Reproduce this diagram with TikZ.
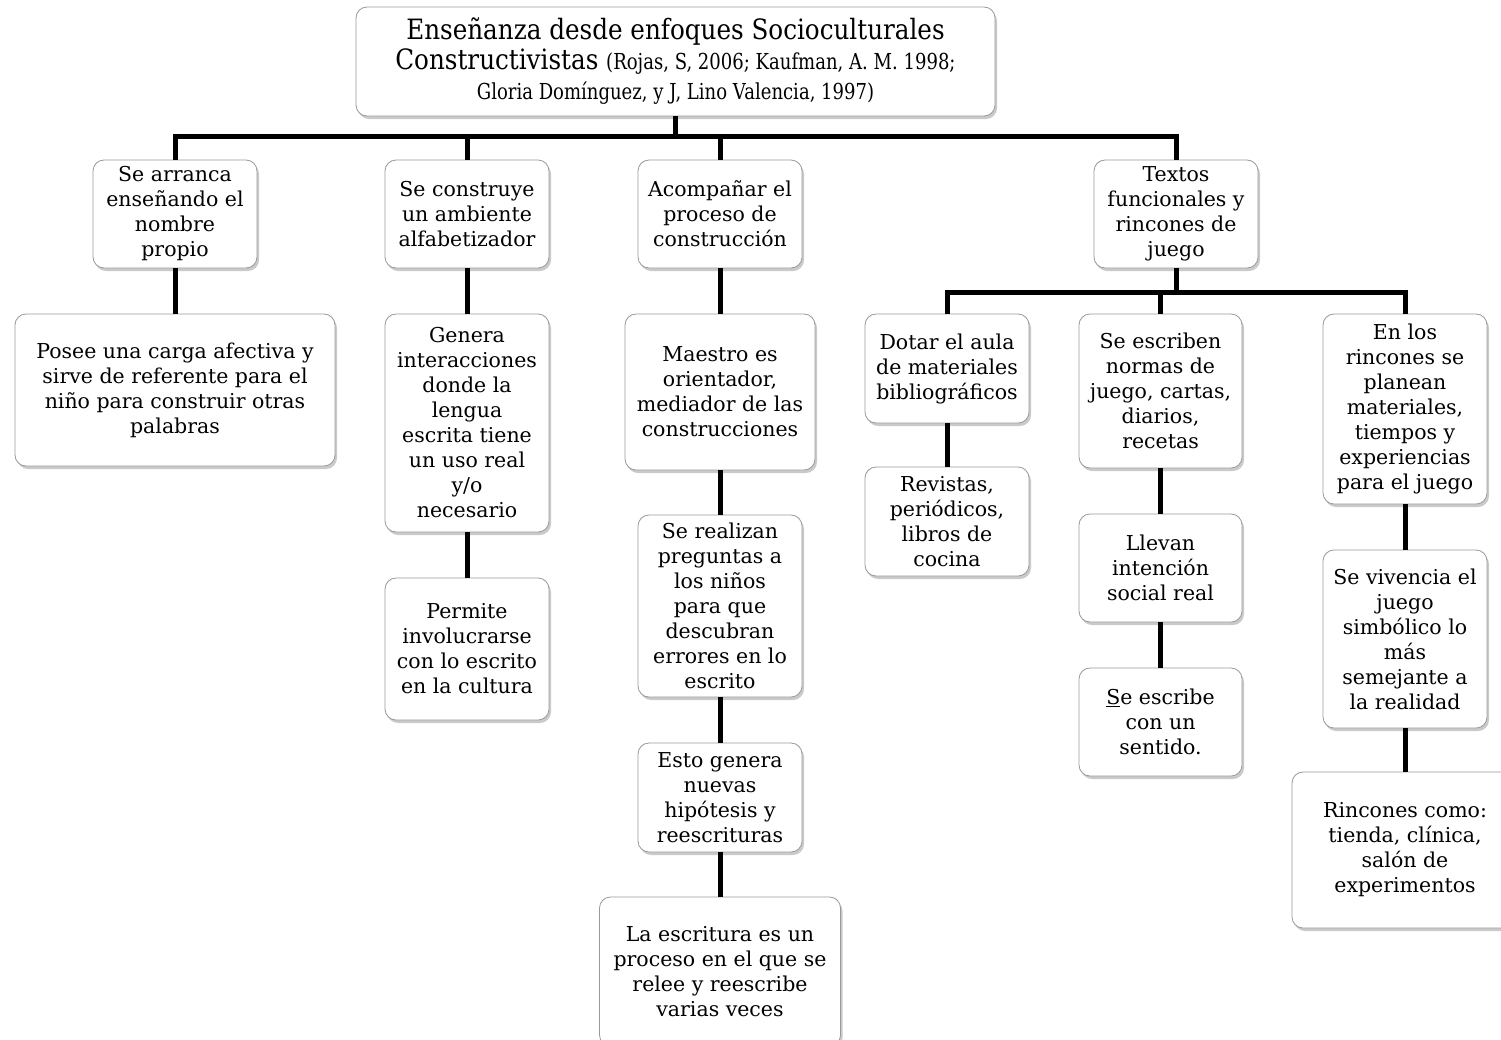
\documentclass[tikz,border=0pt]{standalone}
\usepackage{fontspec}
\setmainfont{DejaVu Serif}
\newfontfamily\titlefam[FakeStretch=0.88]{DejaVu Serif}
\newfontfamily\reffam[FakeStretch=0.82]{DejaVu Serif}
\usetikzlibrary{shadows}
\newcommand{\bodyfont}{\fontsize{20.5}{25}\selectfont}
\newcommand{\titlefont}{\titlefam\fontsize{28}{30}\selectfont}
\newcommand{\reffont}{\reffam\fontsize{22}{26}\selectfont}
\begin{document}
\begin{tikzpicture}[x=1pt,y=-1pt,
  box/.style={draw=black!40, line width=0.8pt, rounded corners=11pt, fill=white,
    align=center, inner sep=0pt, font=\bodyfont,
    drop shadow={shadow xshift=2pt, shadow yshift=-3pt, fill=black!35, opacity=0.6}},
  conn/.style={line width=5pt, draw=black, line join=miter}]
\useasboundingbox (0,0) rectangle (1501,1039);
% nodes
\node[box, minimum width=639pt, minimum height=109pt, font=\titlefont] (top) at (675.5,61.5)
  {Enseñanza desde enfoques Socioculturales\\Constructivistas {\reffont(Rojas, S, 2006; Kaufman, A. M. 1998;}\\{\reffont Gloria Domínguez, y J, Lino Valencia, 1997)}};
\node[box, minimum width=164pt, minimum height=108pt] (B1) at (175,214) {Se arranca\\enseñando el\\nombre\\propio};
\node[box, minimum width=164pt, minimum height=108pt] (B2) at (467,214) {Se construye\\un ambiente\\alfabetizador};
\node[box, minimum width=164pt, minimum height=108pt] (B3) at (720,214) {Acompañar el\\proceso de\\construcción};
\node[box, minimum width=164pt, minimum height=108pt] (B4) at (1176,214) {Textos\\funcionales y\\rincones de\\juego};
\node[box, minimum width=320pt, minimum height=152pt] (C1) at (175,390) {Posee una carga afectiva y\\sirve de referente para el\\niño para construir otras\\palabras};
\node[box, minimum width=164pt, minimum height=218pt] (C2) at (467,423) {Genera\\interacciones\\donde la\\lengua\\escrita tiene\\un uso real\\y/o\\necesario};
\node[box, minimum width=164pt, minimum height=142pt] (D2) at (467,649) {Permite\\involucrarse\\con lo escrito\\en la cultura};
\node[box, minimum width=190pt, minimum height=156pt] (C3) at (720,392) {Maestro es\\orientador,\\mediador de las\\construcciones};
\node[box, minimum width=164pt, minimum height=182pt] (D3) at (720,606) {Se realizan\\preguntas a\\los niños\\para que\\descubran\\errores en lo\\escrito};
\node[box, minimum width=164pt, minimum height=109pt] (E3) at (720,797.5) {Esto genera\\nuevas\\hipótesis y\\reescrituras};
\node[box, minimum width=241pt, minimum height=149pt] (F3) at (720,971.5) {La escritura es un\\proceso en el que se\\relee y reescribe\\varias veces};
\node[box, minimum width=164pt, minimum height=109pt] (G1) at (947,368.5) {Dotar el aula\\de materiales\\bibliográficos};
\node[box, minimum width=164pt, minimum height=109pt] (H1) at (947,521.5) {Revistas,\\periódicos,\\libros de\\cocina};
\node[box, minimum width=163pt, minimum height=154pt] (G2) at (1160.5,391) {Se escriben\\normas de\\juego, cartas,\\diarios,\\recetas};
\node[box, minimum width=163pt, minimum height=108pt] (H2) at (1160.5,568) {Llevan\\intención\\social real};
\node[box, minimum width=163pt, minimum height=108pt] (I2) at (1160.5,722) {\underline{S}e escribe\\con un\\sentido.};
\node[box, minimum width=164pt, minimum height=190pt] (G3) at (1405,409) {En los\\rincones se\\planean\\materiales,\\tiempos y\\experiencias\\para el juego};
\node[box, minimum width=164pt, minimum height=178pt] (H3) at (1405,639) {Se vivencia el\\juego\\simbólico lo\\más\\semejante a\\la realidad};
\node[box, minimum width=226pt, minimum height=156pt] (I3) at (1405,850) {Rincones como:\\tienda, clínica,\\salón de\\experimentos};
% junctions
\coordinate (j0) at (675.5,136);
\coordinate (j1) at (1176,292);
% connectors
\draw[conn] (top.south) -- (j0);
\draw[conn] (B1.north) |- (j0);
\draw[conn] (B2.north) |- (j0);
\draw[conn] (B3.north) |- (j0);
\draw[conn] (B4.north) |- (j0);
\draw[conn] (B1.south) -- (C1.north);
\draw[conn] (B2.south) -- (C2.north);
\draw[conn] (C2.south) -- (D2.north);
\draw[conn] (B3.south) -- (C3.north);
\draw[conn] (C3.south) -- (D3.north);
\draw[conn] (D3.south) -- (E3.north);
\draw[conn] (E3.south) -- (F3.north);
\draw[conn] (B4.south) -- (j1);
\draw[conn] (G1.north) |- (j1);
\draw[conn] (G2.north) |- (j1);
\draw[conn] (G3.north) |- (j1);
\draw[conn] (G1.south) -- (H1.north);
\draw[conn] (G2.south) -- (H2.north);
\draw[conn] (H2.south) -- (I2.north);
\draw[conn] (G3.south) -- (H3.north);
\draw[conn] (H3.south) -- (I3.north);
\end{tikzpicture}
\end{document}
